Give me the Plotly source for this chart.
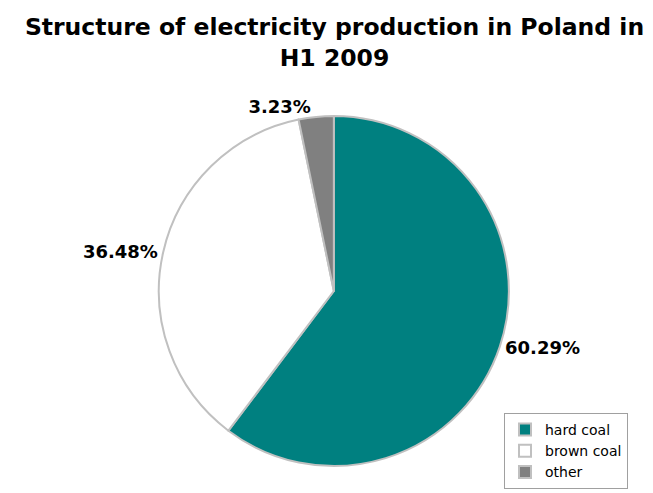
import plotly.graph_objects as go

labels = ["hard coal", "brown coal", "other"]
values = [60.29, 36.48, 3.23]
colors = ["#008080", "#ffffff", "#808080"]

fig = go.Figure(go.Pie(
    labels=labels,
    values=values,
    sort=False,
    direction="clockwise",
    rotation=0,
    marker=dict(colors=colors, line=dict(color="#c0c0c0", width=2)),
    texttemplate="%{value:.2f}%",
    textposition="outside",
    textfont=dict(family="DejaVu Sans", size=18, color="black", weight="bold"),
    domain=dict(x=[0.069, 0.929], y=[0.071, 0.781]),
    hoverinfo="label+value",
))

fig.update_layout(
    width=653, height=493,
    margin=dict(l=0, r=0, t=0, b=0, autoexpand=False),
    paper_bgcolor="white",
    plot_bgcolor="white",
    title=dict(
        text="<b>Structure of electricity production in Poland in<br>H1 2009</b>",
        x=0.5, xanchor="center", xref="paper", yref="container", y=0.945, yanchor="middle",
        font=dict(family="DejaVu Sans", size=23.5, color="black"),
    ),
    legend=dict(
        x=496 / 653, y=1 - 405 / 493, xanchor="left", yanchor="top",
        bordercolor="#a0a0a0", borderwidth=1,
        font=dict(family="DejaVu Sans", size=14, color="black"),
        bgcolor="white", itemwidth=30,
    ),
)

fig.write_html("out.html")
